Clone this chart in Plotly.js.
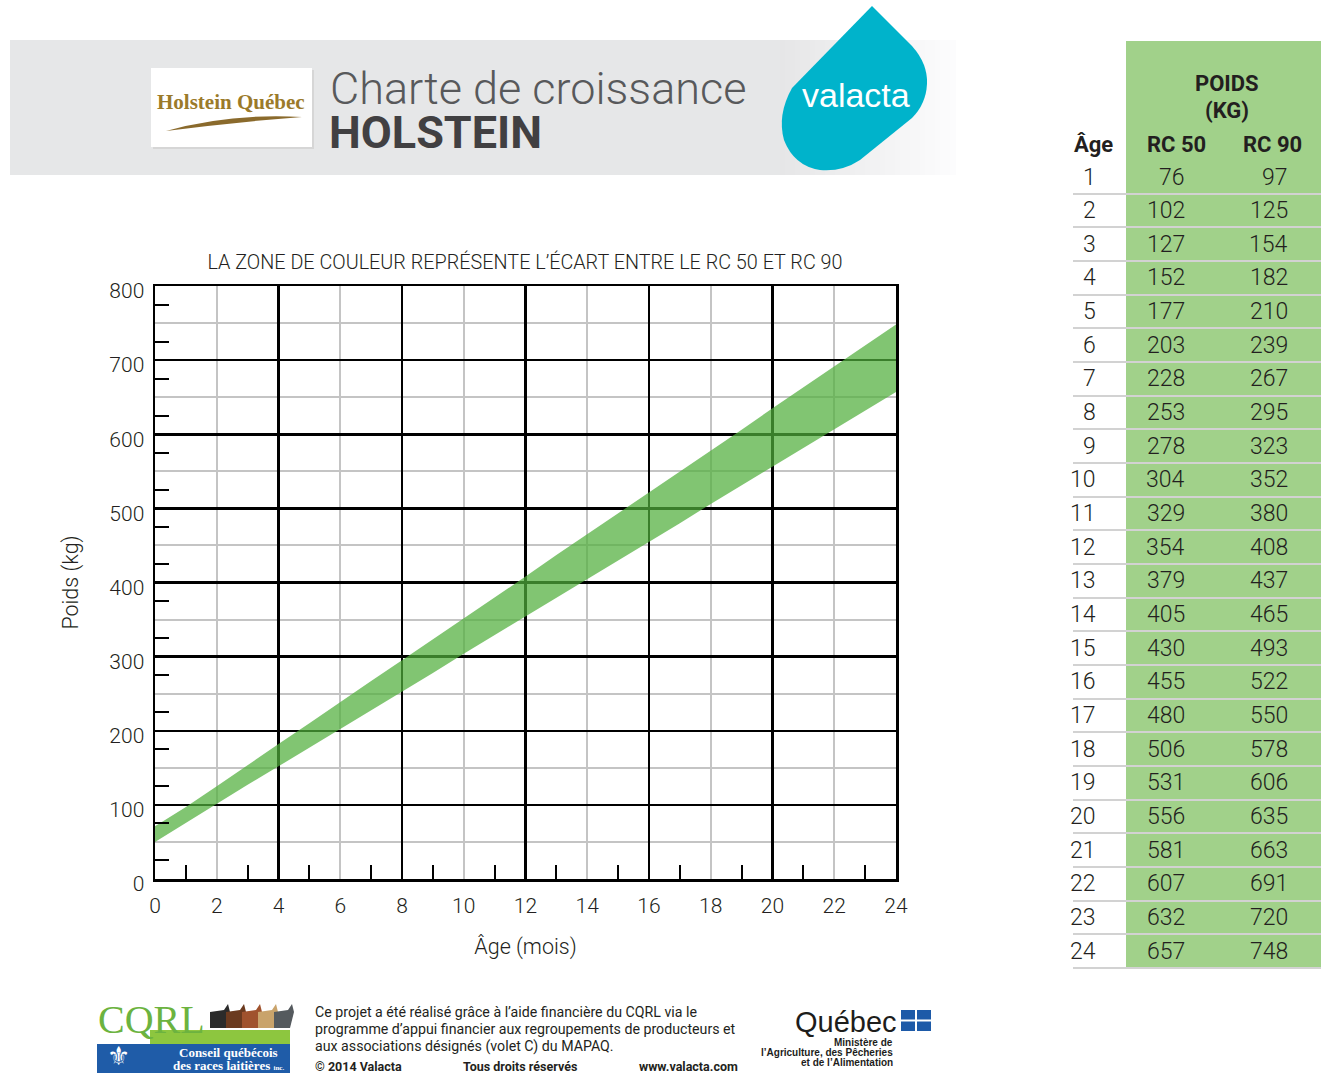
<!DOCTYPE html>
<html><head><meta charset="utf-8">
<script src="https://cdn.plot.ly/plotly-3.0.1.min.js"></script>
<style>html,body{margin:0;padding:0;background:#fff;}#chart{width:1321px;height:1073px;}</style>
</head><body><div id="chart"></div>
<script>
// ---------- DATA ----------
const ageMonths = [0,1,2,3,4,5,6,7,8,9,10,11,12,13,14,15,16,17,18,19,20,21,22,23,24];
const poidsRC50 = [50,76,102,127,152,177,203,228,253,278,304,329,354,379,405,430,455,480,506,531,556,581,607,632,657];
const poidsRC90 = [71,97,125,154,182,210,239,267,295,323,352,380,408,437,465,493,522,550,578,606,635,663,691,720,748];
const yTickLabelsStep = 100;
const chartTitle = "LA ZONE DE COULEUR REPRÉSENTE L’ÉCART ENTRE LE RC 50 ET RC 90";
const xTitle = "Âge (mois)";
const yTitle = "Poids (kg)";
const tableHeaders = ["Âge", "RC 50", "RC 90"];
const tableGroupHeader = ["POIDS", "(KG)"];

// ---------- HELPERS (pixel -> paper) ----------
const W = 1321, H = 1073;
const px = x => x / W;
const py = y => 1 - y / H;
const FONT = "Roboto, sans-serif";
const TXT = "#231f20";
const shapes = [];
const annotations = [];
function rect(x0, y0, x1, y1, fill, line) {
  shapes.push({type:'rect', xref:'paper', yref:'paper', x0:px(x0), x1:px(x1), y0:py(y1), y1:py(y0),
    fillcolor:fill, line: line || {width:0}, layer:'below'});
}
function pathPx(cmds, fill, line) {
  const s = cmds.map(c => {
    const k = c[0]; const pts = [];
    for (let i = 1; i < c.length; i += 2) pts.push(px(c[i]).toFixed(5) + ',' + py(c[i+1]).toFixed(5));
    return k + ' ' + pts.join(' ');
  }).join(' ');
  shapes.push({type:'path', xref:'paper', yref:'paper', path:s, fillcolor:fill, line: line || {width:0}, layer:'below'});
}
function txt(text, x, y, size, opts) {
  opts = opts || {};
  annotations.push({text:text, xref:'paper', yref:'paper', x:px(x), y:py(y), showarrow:false,
    xanchor:opts.xanchor || 'center', yanchor:opts.yanchor || 'middle',
    font:{family:opts.family || FONT, size:size, color:opts.color || TXT, weight:opts.weight || 'normal'}});
}

// ---------- HEADER BANNER ----------
rect(10, 40, 780, 175, '#e6e7e8');
for (let i = 0; i < 35; i++) {
  const t = i / 34;
  const c = Math.round(230 + t * 22);
  rect(780 + i * 5, 40, 786 + i * 5, 175, `rgb(${c},${c},${Math.min(255,c+1)})`);
}
// Holstein Québec logo box
rect(153, 70, 314, 149, '#d6d6d6');
rect(151, 68, 312, 147, '#ffffff');
pathPx([['M',166,131],['Q',230,113,302,117],['Q',236,122,166,131],['Z']], '#8a6a2c');
txt('Holstein Québec', 231, 102, 21, {family:'Liberation Serif, serif', weight:'bold', color:'#9b7a2a'});
txt('Charte de croissance', 328, 88, 45, {xanchor:'left', weight:300, color:'#58595b'});
txt('HOLSTEIN', 327, 132, 45, {xanchor:'left', weight:'bold', color:'#414042'});
// valacta drop
pathPx([['M',872,6],['L',912,46],['Q',928,64,927,84],['Q',926,104,912,118],['L',860,160],
        ['Q',842,172,820,170],['Q',794,166,784,140],['Q',777,115,792,88],['Z']], '#00b3cb');
txt('valacta', 856, 95, 34, {family:'Liberation Sans, Arial, sans-serif', color:'#ffffff'});

// ---------- TABLE DECORATION ----------
rect(1126, 41, 1321, 967, '#a1d18a');
txt(tableGroupHeader[0], 1227, 84, 22, {weight:'bold'});
txt(tableGroupHeader[1], 1227, 111, 22, {weight:'bold'});
txt(tableHeaders[0], 1093, 145, 22, {weight:'bold'});
txt(tableHeaders[1], 1176, 145, 22, {weight:'bold'});
txt(tableHeaders[2], 1272, 145, 22, {weight:'bold'});

// ---------- FOOTER ----------
rect(150, 1030, 290, 1044, '#8dc63f');
rect(97, 1044, 290, 1073, '#1f5ca8');
txt('CQRL', 96, 1019, 40, {xanchor:'left', family:'Liberation Serif, serif', color:'#6cb33f'});
txt('⚜', 118, 1056, 26, {family:'DejaVu Sans', color:'#ffffff'});
txt('Conseil québécois', 228, 1052, 13, {family:'Liberation Serif, serif', weight:'bold', color:'#ffffff'});
txt('des races laitières <span style="font-size:7px">inc.</span>', 228, 1065, 13, {family:'Liberation Serif, serif', weight:'bold', color:'#ffffff'});
const cowCols = ['#2b2b2b','#6b3a1f','#a0522d','#c9a36b','#555a5e'];
cowCols.forEach((c, i) => {
  shapes.push({type:'path', xref:'paper', yref:'paper',
    path:`M ${px(210+i*16)},${py(1028)} L ${px(210+i*16)},${py(1012)} L ${px(224+i*16)},${py(1010)} L ${px(228+i*16)},${py(1004)} L ${px(230+i*16)},${py(1012)} L ${px(226+i*16)},${py(1028)} Z`,
    fillcolor:c, line:{width:0}, layer:'below'});
});
txt('Ce projet a été réalisé grâce à l’aide financière du CQRL via le', 313, 1012, 14.2, {xanchor:'left'});
txt('programme d’appui financier aux regroupements de producteurs et', 313, 1029, 14.2, {xanchor:'left'});
txt('aux associations désignés (volet C) du MAPAQ.', 313, 1046, 14.2, {xanchor:'left'});
txt('© 2014 Valacta', 313, 1066, 12.5, {xanchor:'left', weight:'bold'});
txt('Tous droits réservés', 461, 1066, 12.5, {xanchor:'left', weight:'bold'});
txt('www.valacta.com', 740, 1066, 12.5, {xanchor:'right', weight:'bold'});
txt('Québec', 846, 1022, 29, {family:'Liberation Sans, Arial, sans-serif', color:'#1d1d1b'});
rect(901, 1010, 931, 1031, '#1d5aa8');
rect(915, 1010, 917, 1031, '#ffffff');
rect(901, 1019.5, 931, 1021.5, '#ffffff');
txt('Ministère de', 895, 1042, 10, {xanchor:'right', family:'Liberation Sans, Arial, sans-serif', weight:'bold', color:'#1d1d1b'});
txt('l’Agriculture, des Pêcheries', 895, 1052, 10, {xanchor:'right', family:'Liberation Sans, Arial, sans-serif', weight:'bold', color:'#1d1d1b'});
txt('et de l’Alimentation', 895, 1062, 10, {xanchor:'right', family:'Liberation Sans, Arial, sans-serif', weight:'bold', color:'#1d1d1b'});

// ---------- TABLE CELLS (through x3/y3 scales) ----------
const colRight = [1098, 1187, 1290];
const tableAges = ageMonths.slice(1);
const tableRC50 = poidsRC50.slice(1);
const tableRC90 = poidsRC90.slice(1);
tableAges.forEach((a, i) => {
  [a, tableRC50[i], tableRC90[i]].forEach((v, c) => {
    annotations.push({text:String(v), xref:'x3', yref:'y3', x:colRight[c], y:a, xanchor:'right', yanchor:'middle',
      showarrow:false, font:{family:FONT, size:23, color:TXT, weight:300}});
  });
});

// ---------- TRACES ----------
const traces = [
  {x:ageMonths, y:poidsRC50, type:'scatter', mode:'lines', line:{width:0, color:'rgba(0,0,0,0)'},
   hoverinfo:'skip', showlegend:false, name:'RC 50'},
  {x:ageMonths, y:poidsRC90, type:'scatter', mode:'lines', line:{width:0, color:'rgba(0,0,0,0)'},
   fill:'tonexty', fillcolor:'rgba(80,175,60,0.72)', hoverinfo:'skip', showlegend:false, name:'RC 90'},
  {x:[], y:[], xaxis:'x2', yaxis:'y2', type:'scatter', hoverinfo:'skip', showlegend:false},
  {x:[], y:[], xaxis:'x3', yaxis:'y3', type:'scatter', hoverinfo:'skip', showlegend:false}
];

const yTickVals = [], yTickText = [];
for (let v = 0; v <= 800; v += 50) { yTickVals.push(v); yTickText.push(v % yTickLabelsStep === 0 ? String(v) : ''); }

const plotDomX = [px(155), px(896)];
const plotDomY = [py(879), py(286)];
const rowH = (951 - 177) / 23;
const tableTop = 177 - rowH / 2, tableBot = 951 + rowH / 2 + rowH * 0.1;
const TICKFONT = {family:FONT, size:21, color:TXT, weight:300};

const layout = {
  width: W, height: H,
  margin: {l:0, r:0, t:0, b:0},
  paper_bgcolor: '#ffffff', plot_bgcolor: 'rgba(0,0,0,0)',
  title: {text: chartTitle, x: px(525), y: py(262), xanchor:'center', yanchor:'middle', xref:'paper', yref:'paper',
    font:{family:FONT, size:19.8, color:TXT, weight:300}},
  xaxis: {domain: plotDomX, range:[0,24], tick0:0, dtick:2, showgrid:true, gridcolor:'#c4c4c4', gridwidth:2,
    zeroline:false, showline:true, mirror:true, linecolor:'#000', linewidth:2.5, ticks:'', automargin:false,
    tickfont:TICKFONT, ticklabelstandoff:6,
    minor:{tick0:1, dtick:2, ticks:'inside', ticklen:14, tickwidth:2, tickcolor:'#000', showgrid:false},
    title:{text:xTitle, font:{family:FONT, size:21.5, color:TXT, weight:300}, standoff:22}},
  yaxis: {domain: plotDomY, range:[0,800], tickmode:'array', tickvals:yTickVals, ticktext:yTickText,
    showgrid:true, gridcolor:'#c4c4c4', gridwidth:2, zeroline:false, showline:true, mirror:true,
    linecolor:'#000', linewidth:2.5, ticks:'', automargin:false, ticklabelstandoff:4, ticklabelshift:5,
    tickfont:TICKFONT,
    minor:{tick0:25, dtick:50, ticks:'inside', ticklen:14, tickwidth:2, tickcolor:'#000', showgrid:false},
    title:{text:yTitle, font:{family:FONT, size:21.5, color:TXT, weight:300}, standoff:25}},
  xaxis2: {domain: plotDomX, overlaying:'x', anchor:'y2', range:[0,24], tick0:0, dtick:4, showgrid:true,
    gridcolor:'#000', gridwidth:2.5, zeroline:false, showticklabels:false, ticks:'', showline:false},
  yaxis2: {domain: plotDomY, overlaying:'y', anchor:'x2', range:[0,800], tick0:0, dtick:100, showgrid:true,
    gridcolor:'#000', gridwidth:2.5, zeroline:false, showticklabels:false, ticks:'', showline:false},
  xaxis3: {domain:[px(1073), 1], anchor:'y3', range:[1073, 1321], visible:false, fixedrange:true},
  yaxis3: {domain:[py(tableBot), py(tableTop)], anchor:'x3', range:[24.5 + 0.1, 0.5], tick0:1.5, dtick:1,
    showgrid:true, gridcolor:'#d2d2d2', gridwidth:2, zeroline:false, showticklabels:false, ticks:'',
    showline:false, fixedrange:true},
  shapes: shapes,
  annotations: annotations,
  showlegend: false
};

Plotly.newPlot('chart', traces, layout, {displayModeBar:false, staticPlot:true});
</script></body></html>
